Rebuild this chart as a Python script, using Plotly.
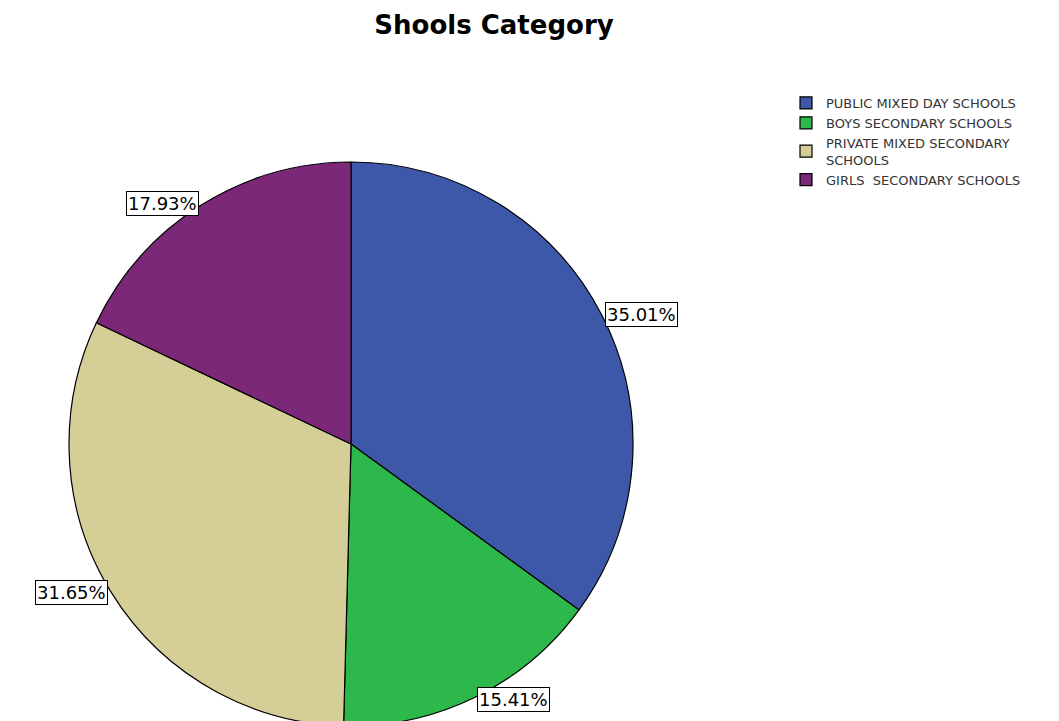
import numpy as np
import plotly.graph_objects as go

categories = ["PUBLIC MIXED DAY SCHOOLS", "BOYS SECONDARY SCHOOLS",
              "PRIVATE MIXED SECONDARY<br>SCHOOLS", "GIRLS  SECONDARY SCHOOLS"]
values = [35.01, 15.41, 31.65, 17.93]
label_texts = ["35.01%", "15.41%", "31.65%", "17.93%"]
colors = ["#3D58A9", "#2DB84B", "#D5CE97", "#7B2879"]

W, H = 1059, 721
# the page body adds an 8px offset, so figure coords = window coords - 8
cx_px, cy_px, r_px = 343, 436, 282  # pie centre / radius in pixels (from top)

fig = go.Figure()
fig.add_trace(go.Pie(
    labels=categories, values=values, sort=False, direction="clockwise",
    rotation=0, textinfo="none", hoverinfo="label+percent",
    marker=dict(colors=colors, line=dict(color="#000000", width=1.2)),
    domain=dict(x=[(cx_px - r_px) / W, (cx_px + r_px) / W],
                y=[max(0, (H - cy_px - r_px) / H), (H - cy_px + r_px) / H]),
))

# label boxes at mid-angle of each slice
total = sum(values)
cum = np.cumsum([0] + values)
for i, txt in enumerate(label_texts):
    mid = (cum[i] + values[i] / 2) / total * 2 * np.pi
    px = cx_px + (r_px + 3) * np.sin(mid)
    py = cy_px - (r_px + 3) * np.cos(mid)
    xanchor = "left" if np.sin(mid) >= 0 else "right"
    fig.add_annotation(
        x=px / W, y=1 - py / H, xref="paper", yref="paper",
        text=txt, showarrow=False, xanchor=xanchor, yanchor="middle",
        font=dict(family="DejaVu Sans", size=18, color="#000000"),
        bordercolor="#000000", borderwidth=1, borderpad=1, bgcolor="#FFFFFF",
    )

fig.update_layout(
    width=W, height=H,
    margin=dict(l=0, r=0, t=0, b=0),
    paper_bgcolor="#FFFFFF", plot_bgcolor="#FFFFFF",
    title=dict(text="<b>Shools Category</b>", x=486 / W, xanchor="center",
               y=1 - 17 / H, yanchor="middle",
               font=dict(family="DejaVu Sans", size=26, color="#000000")),
    legend=dict(x=778 / W, y=1 - 80 / H, xanchor="left", yanchor="top",
                font=dict(family="DejaVu Sans", size=13, color="#333333"),
                tracegroupgap=0, itemwidth=30, bgcolor="rgba(0,0,0,0)"),
    showlegend=True,
)

fig.write_html("out.html")
